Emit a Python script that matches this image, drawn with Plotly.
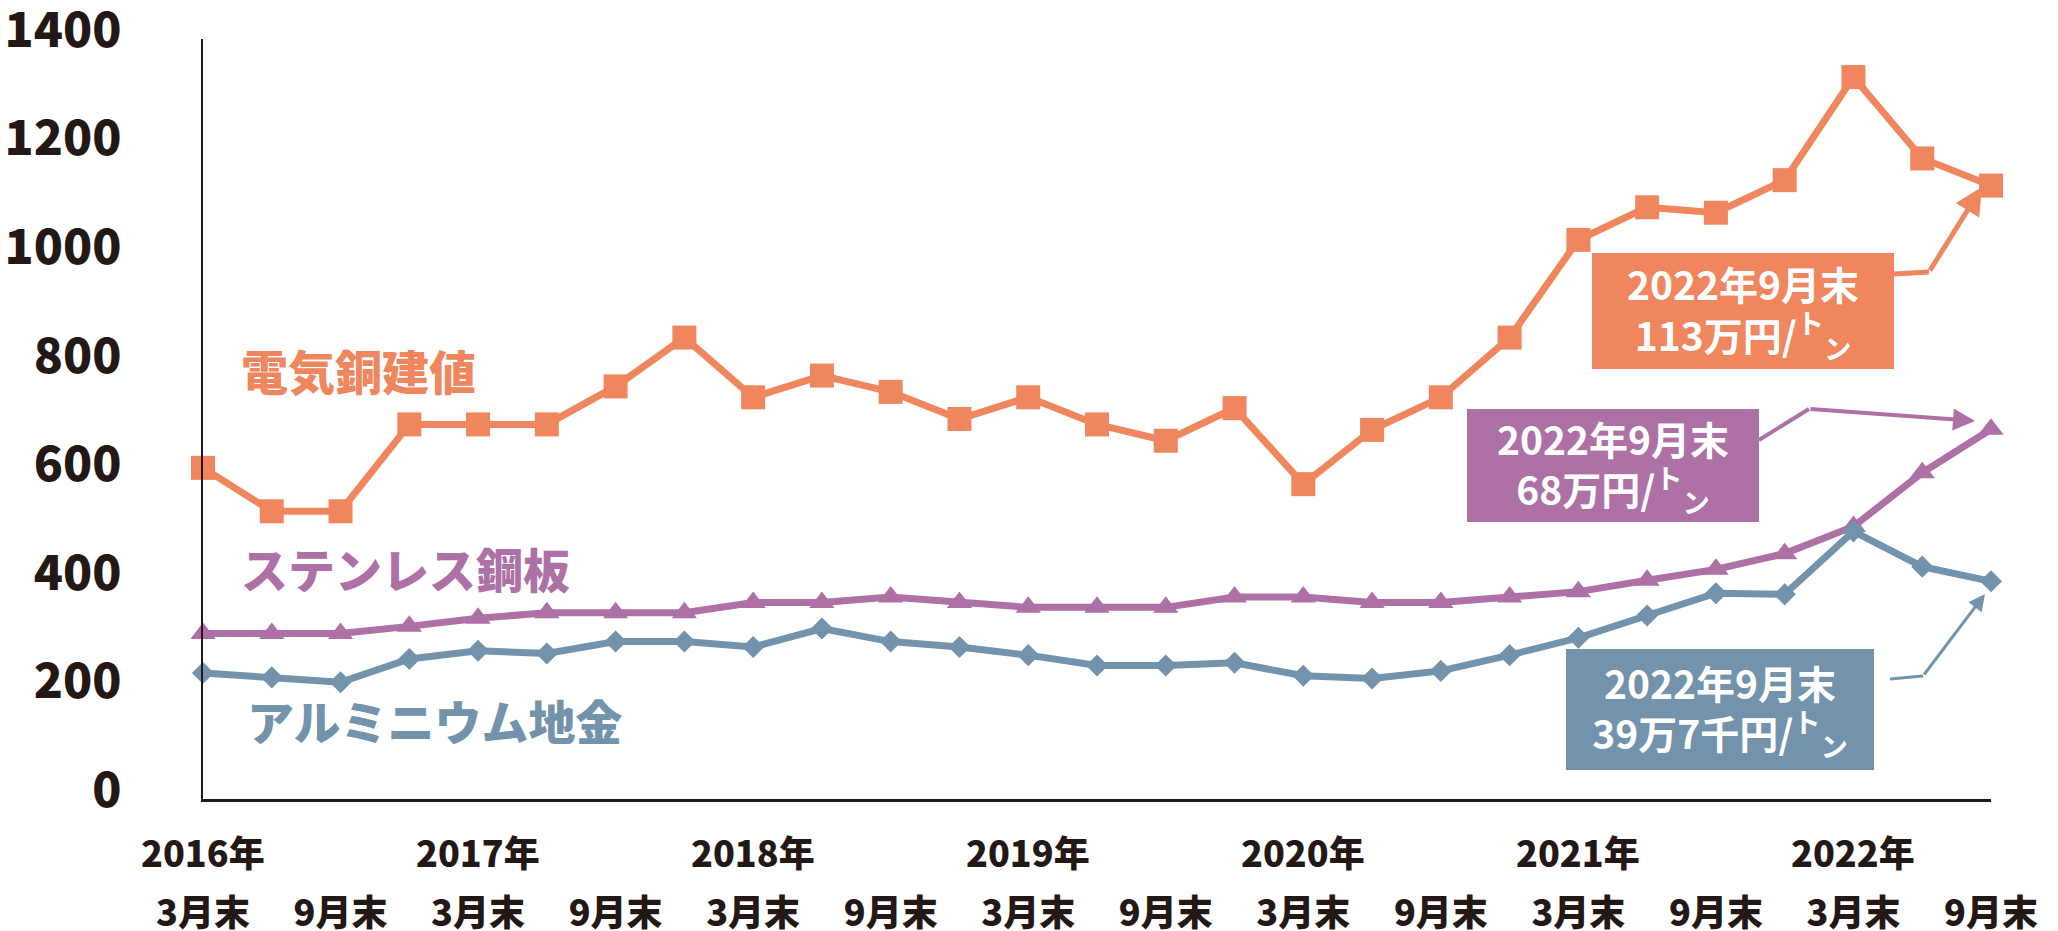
import plotly.graph_objects as go

quarters = ["2016年3月末", "2016年6月末", "2016年9月末", "2016年12月末",
            "2017年3月末", "2017年6月末", "2017年9月末", "2017年12月末",
            "2018年3月末", "2018年6月末", "2018年9月末", "2018年12月末",
            "2019年3月末", "2019年6月末", "2019年9月末", "2019年12月末",
            "2020年3月末", "2020年6月末", "2020年9月末", "2020年12月末",
            "2021年3月末", "2021年6月末", "2021年9月末", "2021年12月末",
            "2022年3月末", "2022年6月末", "2022年9月末"]

copper = [610, 530, 530, 690, 690, 690, 760, 850, 740, 780, 750, 700, 740, 690,
          660, 720, 580, 680, 740, 850, 1030, 1090, 1080, 1140, 1330, 1180, 1130]
stainless = [305, 305, 305, 318, 333, 343, 343, 343, 362, 362, 372, 362, 353, 353,
             353, 372, 372, 362, 362, 372, 382, 403, 423, 452, 502, 601, 681]
aluminum = [232, 224, 215, 258, 273, 268, 290, 290, 280, 314, 290, 280, 265, 246,
            246, 251, 227, 222, 236, 265, 297, 338, 379, 377, 493, 428, 401]

month_ticks = ["2016年3月末", "2016年9月末", "2017年3月末", "2017年9月末",
               "2018年3月末", "2018年9月末", "2019年3月末", "2019年9月末",
               "2020年3月末", "2020年9月末", "2021年3月末", "2021年9月末",
               "2022年3月末", "2022年9月末"]
month_labels = ["3月末", "9月末"] * 7
year_pos = ["2016年3月末", "2017年3月末", "2018年3月末", "2019年3月末",
            "2020年3月末", "2021年3月末", "2022年3月末"]
year_labels = ["2016年", "2017年", "2018年", "2019年", "2020年", "2021年", "2022年"]
y_ticks = [0, 200, 400, 600, 800, 1000, 1200, 1400]

series_names = ["電気銅建値", "ステンレス鋼板", "アルミニウム地金"]
box_texts = ["2022年9月末<br>113万円/<sup>ト</sup><sub>ン</sub>",
             "2022年9月末<br>68万円/<sup>ト</sup><sub>ン</sub>",
             "2022年9月末<br>39万7千円/<sup>ト</sup><sub>ン</sub>"]

C_CU = "#F0865E"
C_SS = "#AD71A6"
C_AL = "#7293AB"
INK = "#231815"
FONT = "Noto Sans CJK JP"

W, H = 2058, 931
L, R, T, B = 203, 1991, 39, 799


def px(xp):
    return (xp - L) / (R - L)


def py(yp):
    return (B - yp) / (B - T)


fig = go.Figure()
fig.add_trace(go.Scatter(x=quarters, y=stainless, mode="lines+markers", name=series_names[1],
                         line=dict(color=C_SS, width=7),
                         marker=dict(symbol="triangle-up", size=22, color=C_SS),
                         cliponaxis=False))
fig.add_trace(go.Scatter(x=quarters, y=aluminum, mode="lines+markers", name=series_names[2],
                         line=dict(color=C_AL, width=7),
                         marker=dict(symbol="diamond", size=17, color=C_AL),
                         cliponaxis=False))
fig.add_trace(go.Scatter(x=quarters, y=copper, mode="lines+markers", name=series_names[0],
                         line=dict(color=C_CU, width=7),
                         marker=dict(symbol="square", size=24, color=C_CU),
                         cliponaxis=False))

annotations = []
# year row
for pos, lab in zip(year_pos, year_labels):
    annotations.append(dict(x=pos, y=py(851), xref="x", yref="paper", text=lab,
                            showarrow=False, xanchor="center", yanchor="middle",
                            font=dict(family=FONT, size=36, color=INK, weight=900)))

# series labels
for name, col, xl, yc in [(series_names[0], C_CU, 239, 369),
                          (series_names[1], C_SS, 239, 567),
                          (series_names[2], C_AL, 245, 719)]:
    annotations.append(dict(x=px(xl), y=py(yc), xref="paper", yref="paper", text=name,
                            showarrow=False, xanchor="left", yanchor="middle",
                            font=dict(family=FONT, size=47, color=col, weight=900)))

# value boxes
for txt, col, cx, cy, bw, bh in [(box_texts[0], C_CU, 1743, 311, 302, 116),
                                 (box_texts[1], C_SS, 1613, 465, 292, 113),
                                 (box_texts[2], C_AL, 1720, 709, 308, 121)]:
    annotations.append(dict(x=px(cx), y=py(cy), xref="paper", yref="paper", text=txt,
                            showarrow=False, xanchor="center", yanchor="middle",
                            width=bw, height=bh, bgcolor=col, borderpad=0, borderwidth=0,
                            align="center", valign="middle",
                            font=dict(family=FONT, size=39, color="white", weight="bold")))

# arrows (last segment of connectors)
for col, (tx, ty), (sx, sy), w in [(C_CU, (1982, 187), (1929, 272), 5),
                                   (C_SS, (1975, 421), (1809, 409), 4),
                                   (C_AL, (1985, 594), (1923, 676), 3)]:
    annotations.append(dict(x=px(tx), y=py(ty), xref="paper", yref="paper", text="",
                            showarrow=True, ax=sx - tx, ay=sy - ty, arrowhead=2,
                            arrowsize=1.1, arrowwidth=w, arrowcolor=col, standoff=0))

shapes = []
for col, (x0, y0), (x1, y1), w in [(C_CU, (1894, 274), (1929, 272), 5),
                                   (C_SS, (1759, 440), (1809, 409), 4),
                                   (C_AL, (1890, 679), (1923, 676), 3)]:
    shapes.append(dict(type="line", xref="paper", yref="paper",
                       x0=px(x0), y0=py(y0), x1=px(x1), y1=py(y1),
                       line=dict(color=col, width=w)))

fig.update_layout(
    width=W, height=H, autosize=False,
    margin=dict(l=L, r=W - R, t=T, b=H - B, pad=0, autoexpand=False),
    paper_bgcolor="white", plot_bgcolor="white",
    showlegend=False,
    annotations=annotations, shapes=shapes,
    xaxis=dict(type="category", categoryorder="array", categoryarray=quarters,
               range=[0, len(quarters) - 1], tickmode="array", tickvals=month_ticks,
               ticktext=month_labels, showgrid=False, zeroline=False,
               showline=True, linecolor=INK, linewidth=3, ticks="",
               ticklabelstandoff=81, automargin=False, ticklabeloverflow="allow",
               tickfont=dict(family=FONT, size=36, color=INK, weight=900)),
    yaxis=dict(range=[0, 1400], tickmode="array", tickvals=y_ticks,
               showgrid=False, zeroline=False, showline=True, linecolor=INK,
               linewidth=2, ticks="", ticklabelstandoff=70, ticklabelshift=-9,
               automargin=False, ticklabeloverflow="allow",
               tickfont=dict(family=FONT, size=48, color=INK, weight=900)),
)

fig.write_html("out.html")
